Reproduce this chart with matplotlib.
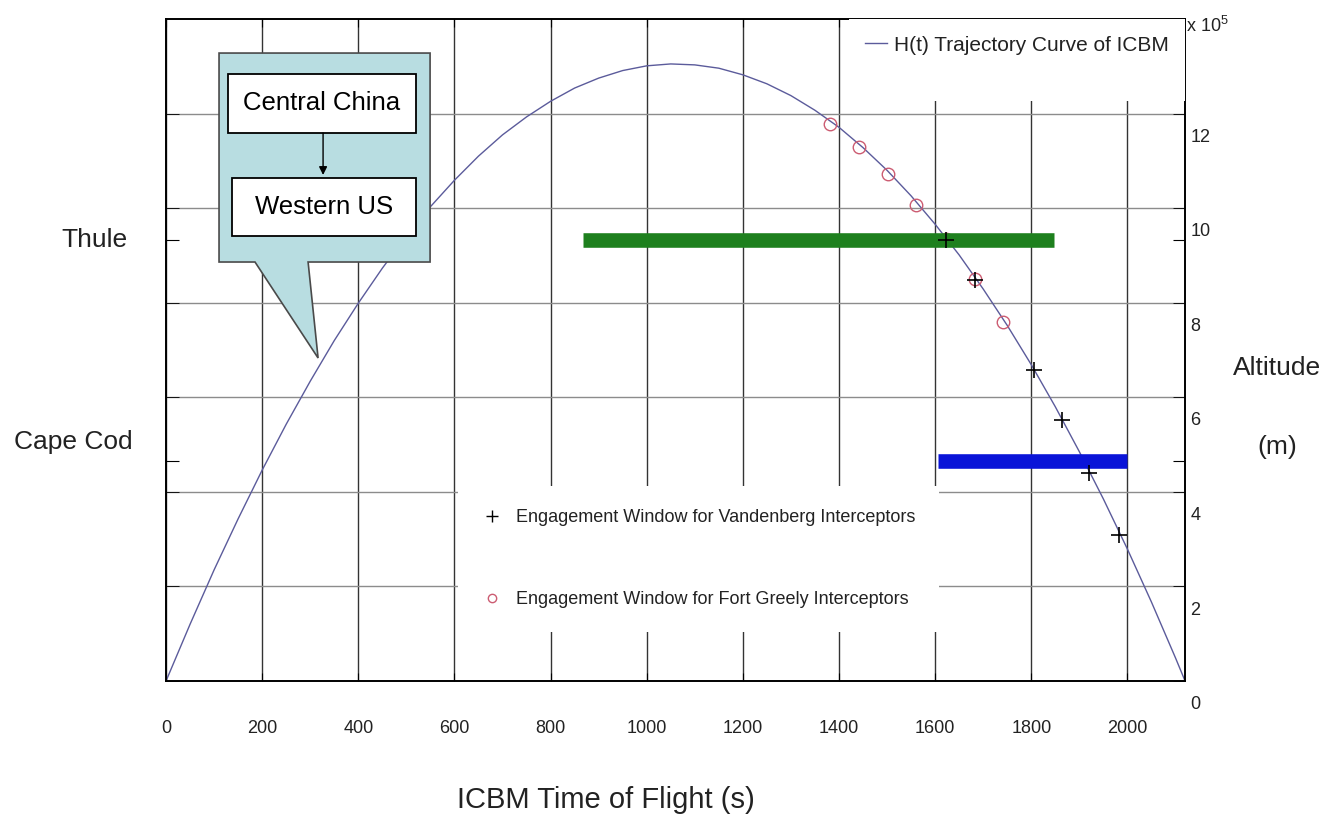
import matplotlib
matplotlib.use("Agg")
import matplotlib.pyplot as plt
from matplotlib.lines import Line2D
from matplotlib.patches import Polygon, Rectangle
from matplotlib.ticker import FixedLocator, NullFormatter

plt.rcParams['font.family'] = ['Liberation Sans', 'DejaVu Sans']
plt.rcParams['mathtext.fontset'] = 'custom'
plt.rcParams['mathtext.rm'] = 'Liberation Sans'

# trajectory (altitude in units of 1e5)
flightTime = [0, 50, 100, 150, 200, 250, 300, 350, 400, 450, 500, 550, 600,
              650, 700, 750, 800, 850, 900, 950, 1000, 1050, 1100, 1150, 1200,
              1250, 1300, 1350, 1400, 1450, 1500, 1550, 1600, 1650, 1700, 1750,
              1800, 1850, 1900, 1950, 2000, 2050, 2100, 2120]
altitude = [0.0, 1.20, 2.35, 3.43, 4.46, 5.43, 6.34, 7.20, 7.99, 8.73, 9.41,
            10.03, 10.59, 11.10, 11.55, 11.93, 12.26, 12.54, 12.75, 12.91, 13.01,
            13.05, 13.03, 12.96, 12.82, 12.63, 12.38, 12.07, 11.71, 11.28, 10.80,
            10.26, 9.66, 9.01, 8.29, 7.52, 6.69, 5.80, 4.85, 3.85, 2.79, 1.67,
            0.49, 0.0]

greelyTime = [1382, 1441, 1501, 1561, 1622, 1684, 1742]
greelyAlt = [11.79, 11.30, 10.73, 10.07, 9.35, 8.50, 7.60]

vandenbergTime = [1622, 1684, 1805, 1863, 1921, 1983]
vandenbergAlt = [9.33, 8.48, 6.58, 5.52, 4.40, 3.08]

sites = ['Thule', 'Cape Cod']
siteAlt = [9.33, 4.65]
windowStart = [867, 1607]
windowEnd = [1848, 2000]
windowColors = ['#1e801e', '#0a14d8']

xTicks = [0, 200, 400, 600, 800, 1000, 1200, 1400, 1600, 1800, 2000]
altGrid = [0, 2, 4, 6, 8, 10, 12]

fig = plt.figure(figsize=(13.38, 8.27), dpi=100)
ax = fig.add_axes([0.1241, 0.1766, 0.7616, 0.8004])
ax.set_xlim(0, 2120)
ax.set_ylim(0, 14)

# grid: dark verticals, lighter horizontals
ax.set_xticks(xTicks)
ax.set_yticks(siteAlt)
ax.yaxis.set_major_formatter(NullFormatter())
ax.yaxis.set_minor_locator(FixedLocator(altGrid))
ax.yaxis.set_minor_formatter(NullFormatter())
ax.grid(axis='x', color='#333333', lw=1.0, zorder=0.5)
ax.grid(axis='y', which='minor', color='#8c8c8c', lw=1.0, zorder=0.5)
ax.set_axisbelow(True)
ax.tick_params(axis='x', direction='in', top=True, length=6, pad=28,
               labelsize=13, labelcolor='#222222')
ax.tick_params(axis='y', which='both', direction='in', left=True, right=True,
               length=9)
for s in ax.spines.values():
    s.set_linewidth(1.4)

traj, = ax.plot(flightTime, altitude, color='#5b5b9b', lw=1.0, zorder=2,
                label='H(t) Trajectory Curve of ICBM')
ax.plot(greelyTime, greelyAlt, 'o', ms=9, mfc='none', mec='#cc5c72', mew=1.0,
        zorder=2.5)
for i in range(len(sites)):
    ax.hlines(siteAlt[i], windowStart[i], windowEnd[i], color=windowColors[i],
              lw=10.5, zorder=3)
ax.plot(vandenbergTime, vandenbergAlt, '+', ms=11, color='black', mew=1.2,
        zorder=4)

# legends (blank second row just makes the white box as tall as the original)
blank = Line2D([], [], ls='none')
leg1 = ax.legend(handles=[traj, blank],
                 labels=['H(t) Trajectory Curve of ICBM', ' '],
                 loc='upper right', bbox_to_anchor=(1, 1),
                 borderaxespad=0, borderpad=0.8, handlelength=1.06,
                 handletextpad=0.3, fontsize=15, frameon=True, fancybox=False,
                 framealpha=1, edgecolor='none', labelcolor='#222222')
leg1.set_zorder(5)
ax.add_artist(leg1)
plusHandle = Line2D([], [], ls='none', marker='+', ms=9, color='black', mew=1.0)
circHandle = Line2D([], [], ls='none', marker='o', ms=6, mfc='none',
                    mec='#cc5c72', mew=1.0)
leg2 = ax.legend([plusHandle, circHandle],
                 ['Engagement Window for Vandenberg Interceptors',
                  'Engagement Window for Fort Greely Interceptors'],
                 loc='upper left', bbox_to_anchor=(0.2866, 0.2946),
                 borderaxespad=0, borderpad=1.3, handlelength=1.2,
                 handletextpad=0.7, labelspacing=3.6, fontsize=13,
                 frameon=True, fancybox=False, framealpha=1, edgecolor='none',
                 labelcolor='#222222')
leg2.set_zorder(5)

# right side altitude labels sit a bit below their gridlines
for v in altGrid:
    ax.annotate(str(v), xy=(1, v), xycoords=ax.get_yaxis_transform(),
                xytext=(4, -17), textcoords='offset points', ha='left',
                va='center', fontsize=13, color='#222222')
ax.annotate('x 10$^{5}$', xy=(1, 1), xycoords='axes fraction', xytext=(1, -5),
            textcoords='offset points', ha='left', va='center', fontsize=13,
            color='#222222')

# site names on the left
ax.annotate(sites[0], xy=(0, siteAlt[0]), xycoords=ax.get_yaxis_transform(),
            xytext=(-28, 0), textcoords='offset points', ha='right',
            va='center', fontsize=19, color='#222222')
ax.annotate(sites[1], xy=(0, siteAlt[1]), xycoords=ax.get_yaxis_transform(),
            xytext=(-24, 14), textcoords='offset points', ha='right',
            va='center', fontsize=19, color='#222222')

fig.text(1277 / 1338, 1 - 368 / 827, 'Altitude', ha='center', va='center',
         fontsize=19, color='#222222')
fig.text(1277 / 1338, 1 - 447 / 827, '(m)', ha='center', va='center',
         fontsize=19, color='#222222')
fig.text(457 / 1338, 1 - 800 / 827, 'ICBM Time of Flight (s)', ha='left',
         va='center', fontsize=21, color='#222222')

# callout bubble
bubble = Polygon([(0.0520, 0.9486), (0.2591, 0.9486), (0.2591, 0.6329),
                  (0.1394, 0.6329), (0.1492, 0.4879), (0.0873, 0.6329),
                  (0.0520, 0.6329)], closed=True, transform=ax.transAxes,
                 fc='#b8dde1', ec='#4a4a4a', lw=1.2, zorder=6)
ax.add_patch(bubble)
ax.add_patch(Rectangle((0.0608, 0.8278), 0.1845, 0.0891, transform=ax.transAxes,
                       fc='white', ec='black', lw=1.3, zorder=7))
ax.add_patch(Rectangle((0.0648, 0.6722), 0.1805, 0.0876, transform=ax.transAxes,
                       fc='white', ec='black', lw=1.3, zorder=7))
ax.text(0.1531, 0.8724, 'Central China', transform=ax.transAxes, ha='center',
        va='center', fontsize=18.5, zorder=8)
ax.text(0.1551, 0.7160, 'Western US', transform=ax.transAxes, ha='center',
        va='center', fontsize=18.5, zorder=8)
ax.annotate('', xy=(0.1541, 0.7644), xytext=(0.1541, 0.8278),
            xycoords='axes fraction', zorder=8,
            arrowprops=dict(arrowstyle='-|>', color='black', lw=1.0,
                            mutation_scale=12, shrinkA=0, shrinkB=0))

fig.savefig('out.png', dpi=100)
